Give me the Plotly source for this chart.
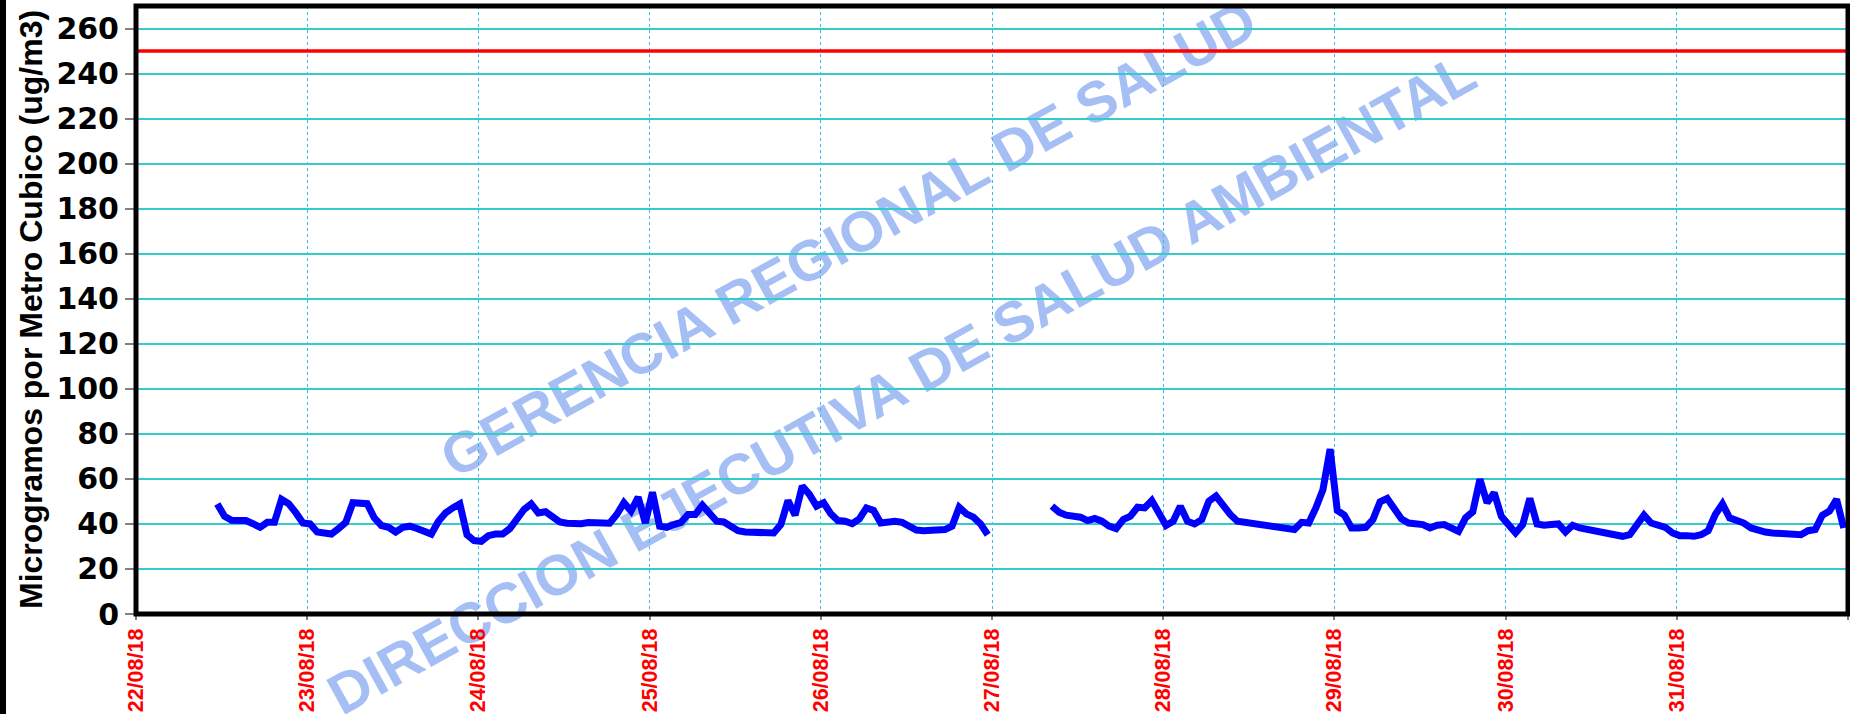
import pandas as pd
import plotly.graph_objects as go

# ---------------- data ----------------
seg1_start = "2018-08-22 11:24"
seg1_values = [
    48.9, 43.4, 41.6, 41.6, 41.5, 40.1, 38.5, 40.7, 40.7, 50.9,
    49.0, 45.0, 40.4, 40.0, 36.4, 36.0, 35.5, 37.9, 40.7, 49.4,
    49.4, 49.0, 42.7, 39.3, 38.5, 36.4, 38.5, 39.0, 38.0, 36.7,
    35.5, 41.2, 44.9, 47.1, 48.9, 35.2, 32.6, 32.3, 34.8, 35.5,
    35.5, 37.9, 42.0, 46.4, 48.9, 44.9, 45.4, 42.7, 40.9, 40.3,
    40.0, 40.1, 40.6, 40.3, 40.0, 40.3, 44.2, 49.4, 45.7, 51.9,
    40.4, 54.1, 39.0, 38.5, 39.7, 40.7, 44.2, 44.2, 48.3, 44.2,
    41.2, 40.9, 39.0, 37.0, 36.4, 36.4, 36.3, 35.8, 36.0, 39.7,
    50.4, 43.9, 56.8, 53.1, 47.9, 49.4, 44.5, 41.5, 41.2, 40.1,
    42.2, 47.1, 46.0, 40.4, 40.7, 41.2, 40.7, 39.0, 37.3, 37.0,
    37.0, 37.2, 37.5, 39.0, 47.4, 44.5, 43.0, 40.0, 35.2,
]
seg2_start = "2018-08-27 08:24"
seg2_values = [
    47.9, 45.2, 43.9, 43.4, 43.0, 41.5, 42.4, 41.2, 39.0, 37.9,
    41.9, 43.4, 47.4, 47.1, 50.4, 44.9, 39.3, 41.2, 47.9, 41.2,
    40.0, 41.9, 50.1, 52.4, 47.9, 44.2, 41.2, 40.7, 40.9, 40.1,
    39.6, 39.0, 38.5, 37.9, 37.5, 40.7, 40.4, 47.1, 55.3, 73.2,
    46.0, 43.9, 38.2, 38.2, 38.5, 41.9, 49.8, 51.3, 46.0, 42.2,
    40.4, 40.0, 39.7, 38.2, 39.4, 39.7, 38.2, 36.7, 42.7, 45.4,
    59.8, 49.4, 53.8, 43.4, 39.7, 36.0, 39.7, 51.3, 40.0, 39.4,
    39.7, 40.0, 36.4, 39.4, 38.2, 37.6, 37.0, 36.4, 36.4, 35.2,
    34.5, 35.2, 39.7, 43.9, 40.4, 39.3, 38.5, 36.0, 34.8, 34.8,
    34.5, 35.2, 37.0, 44.2, 48.9, 42.7, 41.9, 40.4, 38.2, 37.0,
    36.4, 36.0, 35.7, 35.2, 34.9, 35.2, 37.0, 37.5, 43.9, 45.7,
    50.9, 38.2,
]
limit_value = 250
y_ticks = [0, 20, 40, 60, 80, 100, 120, 140, 160, 180, 200, 220, 240, 260]
y_max = 270
x_start = "2018-08-22"
x_end = "2018-09-01"
y_title = "Microgramos por Metro Cubico (ug/m3)"
watermark_1 = "GERENCIA REGIONAL DE SALUD"
watermark_2 = "DIRECCION EJECUTIVA DE SALUD AMBIENTAL"

# ---------------- build ----------------
t1 = pd.date_range(seg1_start, periods=len(seg1_values), freq="h")
t2 = pd.date_range(seg2_start, periods=len(seg2_values), freq="h")
xs = list(t1) + [t1[-1] + pd.Timedelta(hours=1)] + list(t2)
ys = seg1_values + [None] + seg2_values

W, H = 1850, 714
L, R, T, B = 136, 2, 6, 100
PW, PH = W - L - R, H - T - B


def px_x(p):
    return (p - L) / PW


def px_y(p):
    return (H - B - p) / PH


fig = go.Figure()
fig.add_trace(go.Scatter(
    x=xs, y=ys, mode="lines", connectgaps=False,
    line=dict(color="#0000ff", width=7), hoverinfo="skip"))

fig.update_layout(
    width=W, height=H,
    margin=dict(l=L, r=R, t=T, b=B, pad=0, autoexpand=False),
    paper_bgcolor="white", plot_bgcolor="rgba(0,0,0,0)",
    showlegend=False,
    xaxis=dict(
        type="date", range=[x_start, x_end], tick0=x_start, dtick=86400000,
        tickformat="%d/%m/%y", tickangle=-90,
        tickfont=dict(family="Arial, Liberation Sans", size=21.5, color="#ff0000", weight="bold"),
        showgrid=True, gridcolor="#3bb8ec", gridwidth=1, griddash="dot",
        ticks="outside", ticklen=5, tickcolor="#808080", tickwidth=1.5,
        showline=False, zeroline=False, automargin=False),
    yaxis=dict(
        range=[0, y_max], tickvals=y_ticks,
        tickfont=dict(family="DejaVu Sans", size=30, color="black", weight="bold"),
        showgrid=True, gridcolor="#33cccc", gridwidth=2,
        ticks="outside", ticklen=10, tickcolor="#808080", tickwidth=2,
        showline=False, zeroline=False, automargin=False),
)

fig.add_annotation(
    text=y_title, xref="paper", yref="paper", x=px_x(31), y=0.5,
    xanchor="center", yanchor="middle", textangle=-90, showarrow=False,
    font=dict(family="Arial, Liberation Sans", size=32, color="black", weight="bold"))

# watermarks: drawn as shape labels below the grid and the data
wm_font = dict(family="Liberation Sans, Arial", size=57,
               color="rgba(110,150,236,0.62)", weight="bold")
for txt, cx, cy, ang in [(watermark_1, 846, 234, -29), (watermark_2, 899, 379, -29)]:
    fig.add_shape(
        type="rect", xref="paper", yref="paper",
        x0=px_x(cx) - 0.0005, x1=px_x(cx) + 0.0005,
        y0=px_y(cy) - 0.0005, y1=px_y(cy) + 0.0005,
        line=dict(width=0), fillcolor="rgba(0,0,0,0)", layer="below",
        label=dict(text=txt, textangle=ang, textposition="middle center",
                   font=wm_font, padding=0))

fig.add_hline(y=limit_value, line=dict(color="#ff0000", width=3.5))

# plot-area frame
fig.add_shape(type="rect", xref="paper", yref="paper", x0=0, x1=1, y0=0, y1=1,
              line=dict(color="black", width=5), fillcolor="rgba(0,0,0,0)", layer="above")
# outer left border of the chart area
fig.add_shape(type="rect", xref="paper", yref="paper",
              x0=px_x(0), x1=px_x(6), y0=px_y(H), y1=px_y(0),
              line=dict(width=0), fillcolor="black", layer="above")

fig.write_html("out.html", config={"displayModeBar": False},
               post_script="document.body.style.margin='0px';document.body.style.overflow='hidden';")
